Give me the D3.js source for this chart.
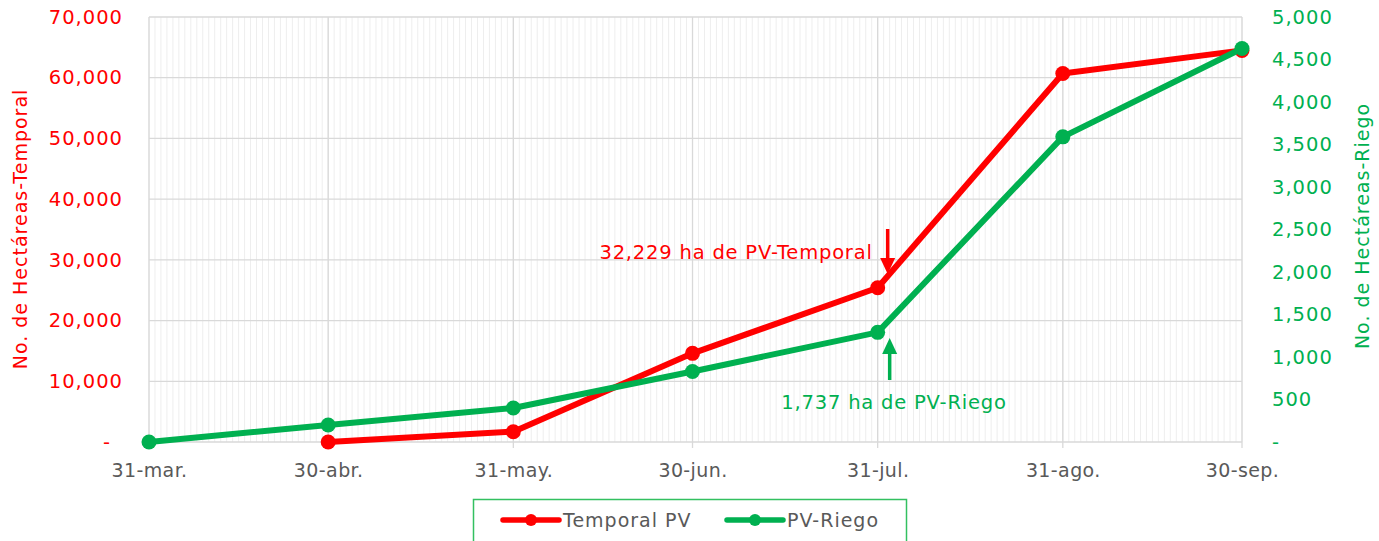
<!DOCTYPE html>
<html>
<head>
<meta charset="utf-8">
<script src="https://cdn.jsdelivr.net/npm/d3@7"></script>
<style>
  html, body { margin: 0; padding: 0; background: #fff; }
  svg { display: block; }
  text { font-family: "DejaVu Sans", sans-serif; }
</style>
</head>
<body>
<svg id="chart" width="1379" height="541"></svg>
<script>
// ---- Data ----
const dates = ["2021-03-31", "2021-04-30", "2021-05-31", "2021-06-30", "2021-07-31", "2021-08-31", "2021-09-30"];
const tickLabels = ["31-mar.", "30-abr.", "31-may.", "30-jun.", "31-jul.", "31-ago.", "30-sep."];
const temporalPV = [null, 0, 1700, 14600, 25400, 60700, 64500];
const pvRiego = [0, 200, 400, 830, 1290, 3590, 4630];
const leftTicks = [0, 10000, 20000, 30000, 40000, 50000, 60000, 70000];
const rightTicks = [0, 500, 1000, 1500, 2000, 2500, 3000, 3500, 4000, 4500, 5000];
const seriesNames = ["Temporal PV", "PV-Riego"];
const annotTemporal = "32,229 ha de PV-Temporal";
const annotRiego = "1,737 ha de PV-Riego";
const leftTitle = "No. de Hectáreas-Temporal";
const rightTitle = "No. de Hectáreas-Riego";

// ---- Styles ----
const RED = "#ff0000", GREEN = "#00b050", GRID = "#d9d9d9", MINOR = "#eeeeee", TXT = "#595959";

const svg = d3.select("#chart");
const parse = d3.utcParse("%Y-%m-%d");
const dts = dates.map(parse);

const x = d3.scaleUtc().domain([dts[0], dts[dts.length - 1]]).range([149, 1242]);
const yL = d3.scaleLinear().domain([0, 70000]).range([442, 17]);
const yR = d3.scaleLinear().domain([0, 5000]).range([442, 17]);

const fmt = v => v === 0 ? "-" : d3.format(",")(v);

// minor daily gridlines
const days = d3.utcDay.range(dts[0], d3.utcDay.offset(dts[dts.length - 1], 1));
svg.append("g").selectAll("line").data(days).join("line")
  .attr("x1", d => x(d)).attr("x2", d => x(d))
  .attr("y1", yL(70000)).attr("y2", yL(0))
  .attr("stroke", MINOR).attr("stroke-width", 1);

// horizontal gridlines
svg.append("g").selectAll("line").data(leftTicks).join("line")
  .attr("x1", 149).attr("x2", 1242)
  .attr("y1", d => yL(d)).attr("y2", d => yL(d))
  .attr("stroke", GRID).attr("stroke-width", 1.3);

// major vertical gridlines + tick marks
svg.append("g").selectAll("line").data(dts).join("line")
  .attr("x1", d => x(d)).attr("x2", d => x(d))
  .attr("y1", yL(70000)).attr("y2", yL(0) + 6)
  .attr("stroke", GRID).attr("stroke-width", 1.3);

// x axis labels
const xAxis = d3.axisBottom(x).tickValues(dts).tickFormat((d, i) => tickLabels[i]).tickSize(0).tickPadding(0);
const gx = svg.append("g").attr("transform", `translate(0,${yL(0)})`).call(xAxis);
gx.select(".domain").remove();
gx.selectAll("text").attr("dy", null).attr("y", 35)
  .attr("fill", TXT).attr("font-size", 19).attr("letter-spacing", 0.4);

// left axis
const aL = d3.axisLeft(yL).tickValues(leftTicks).tickFormat(fmt).tickSize(0).tickPadding(0);
const gL = svg.append("g").attr("transform", "translate(123,0)").call(aL);
gL.select(".domain").remove();
gL.selectAll("text").attr("fill", RED).attr("font-size", 19.5).attr("letter-spacing", 1)
  .attr("x", d => d === 0 ? -12 : 0);

// right axis
const aR = d3.axisRight(yR).tickValues(rightTicks).tickFormat(fmt).tickSize(0).tickPadding(0);
const gR = svg.append("g").attr("transform", "translate(1272,0)").call(aR);
gR.select(".domain").remove();
gR.selectAll("text").attr("fill", GREEN).attr("font-size", 19.5).attr("letter-spacing", 1);

// axis titles
svg.append("text").attr("transform", "translate(20,229) rotate(-90)")
  .attr("text-anchor", "middle").attr("dominant-baseline", "central")
  .attr("fill", RED).attr("font-size", 19).attr("letter-spacing", 1).text(leftTitle);
svg.append("text").attr("transform", "translate(1362,226) rotate(-90)")
  .attr("text-anchor", "middle").attr("dominant-baseline", "central")
  .attr("fill", GREEN).attr("font-size", 19).attr("letter-spacing", 1).text(rightTitle);

// lines
const tData = dts.map((d, i) => ({ d, v: temporalPV[i] })).filter(p => p.v !== null);
const rData = dts.map((d, i) => ({ d, v: pvRiego[i] }));

function drawSeries(data, y, color) {
  const line = d3.line().x(p => x(p.d)).y(p => y(p.v));
  svg.append("path").datum(data).attr("d", line)
    .attr("fill", "none").attr("stroke", color).attr("stroke-width", 6)
    .attr("stroke-linejoin", "round");
  svg.append("g").selectAll("circle").data(data).join("circle")
    .attr("cx", p => x(p.d)).attr("cy", p => y(p.v)).attr("r", 7.5)
    .attr("fill", color);
}
drawSeries(tData, yL, RED);
drawSeries(rData, yR, GREEN);

// annotations
const julX = x(dts[4]);
svg.append("text").attr("x", julX - 5).attr("y", 259).attr("text-anchor", "end")
  .attr("fill", RED).attr("font-size", 19.5).attr("letter-spacing", 0.8).text(annotTemporal);
// red arrow down
svg.append("line").attr("x1", julX + 10).attr("x2", julX + 10).attr("y1", 229).attr("y2", 262)
  .attr("stroke", RED).attr("stroke-width", 3.5);
svg.append("path")
  .attr("d", `M${julX + 2.5},258 L${julX + 17.5},258 L${julX + 10},274 Z`).attr("fill", RED);
// green arrow up
svg.append("line").attr("x1", julX + 12).attr("x2", julX + 12).attr("y1", 350).attr("y2", 380)
  .attr("stroke", GREEN).attr("stroke-width", 3.5);
svg.append("path")
  .attr("d", `M${julX + 4.5},354 L${julX + 19.5},354 L${julX + 12},338 Z`).attr("fill", GREEN);
svg.append("text").attr("x", 894).attr("y", 409).attr("text-anchor", "middle")
  .attr("fill", GREEN).attr("font-size", 19.5).attr("letter-spacing", 0.8).text(annotRiego);

// legend
svg.append("rect").attr("x", 473.5).attr("y", 499.5).attr("width", 433).attr("height", 50)
  .attr("fill", "#fff").attr("stroke", "#33c060").attr("stroke-width", 1.5);
const legendItems = [
  { name: seriesNames[0], color: RED, x0: 503 },
  { name: seriesNames[1], color: GREEN, x0: 727 }
];
legendItems.forEach(it => {
  svg.append("line").attr("x1", it.x0).attr("x2", it.x0 + 56).attr("y1", 520).attr("y2", 520)
    .attr("stroke", it.color).attr("stroke-width", 5.5).attr("stroke-linecap", "round");
  svg.append("circle").attr("cx", it.x0 + 28).attr("cy", 520).attr("r", 6).attr("fill", it.color);
  svg.append("text").attr("x", it.x0 + 60).attr("y", 520).attr("dominant-baseline", "central")
    .attr("fill", TXT).attr("font-size", 19).attr("letter-spacing", 1).text(it.name);
});
</script>
</body>
</html>
